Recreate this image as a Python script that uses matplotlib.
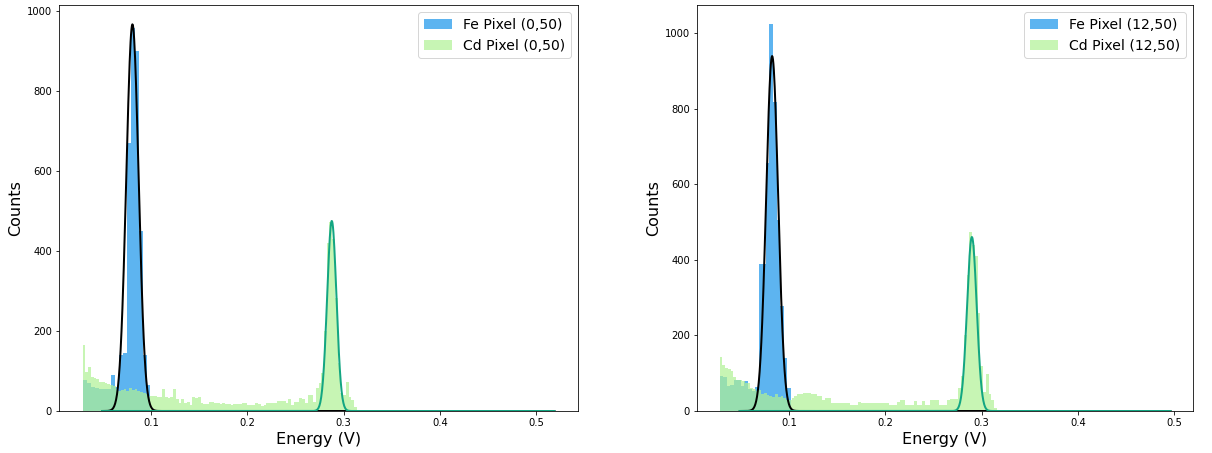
import numpy as np
import matplotlib.pyplot as plt

# Histogram data (bin start, bin width, counts per bin)
fe_left_start, fe_left_width = 0.0288, 0.00415
fe_left_counts = [77, 69, 61, 58, 55, 55, 54, 90, 61, 140, 145, 670, 957, 900, 450, 140, 65]

cd_left_start, cd_left_width = 0.0288, 0.00285
cd_left_counts = [165, 98, 109, 86, 82, 79, 73, 72, 70, 68,
                  66, 62, 55, 50, 52, 55, 50, 58, 52, 56,
                  50, 48, 46, 42, 38, 38, 37, 36, 34, 54,
                  34, 33, 35, 54, 29, 21, 29, 21, 22, 15,
                  34, 33, 34, 21, 17, 18, 23, 22, 19, 20,
                  18, 19, 17, 18, 16, 17, 18, 17, 21, 20,
                  15, 16, 15, 19, 18, 13, 14, 19, 20, 21,
                  19, 26, 25, 26, 21, 29, 15, 23, 22, 32,
                  31, 19, 40, 39, 23, 57, 69, 94, 200, 420,
                  472, 430, 282, 120, 45, 40, 73, 36, 28, 11]

fe_right_start, fe_right_width = 0.0280, 0.0037
fe_right_counts = [92, 90, 66, 70, 83, 83, 66, 79, 57, 53,
                   63, 388, 390, 657, 1024, 817, 507, 279, 141, 60]

cd_right_start, cd_right_width = 0.0280, 0.00288
cd_right_counts = [143, 123, 114, 110, 105, 90, 83, 83, 80, 75,
                   75, 60, 57, 53, 55, 45, 48, 42, 40, 38,
                   45, 36, 40, 35, 30, 30, 35, 39, 44, 44,
                   48, 48, 48, 44, 44, 39, 39, 29, 35, 35,
                   22, 22, 21, 22, 21, 21, 22, 17, 17, 17,
                   25, 21, 21, 22, 21, 21, 22, 22, 22, 22,
                   22, 16, 16, 16, 25, 30, 30, 15, 15, 15,
                   26, 15, 15, 26, 15, 15, 29, 29, 29, 15,
                   15, 15, 30, 33, 33, 33, 61, 92, 200, 360,
                   474, 440, 410, 260, 120, 50, 99, 45, 30, 8]

# Gaussian fit parameters (amplitude, centre, sigma) and fit range
fe_left_fit = (966, 0.0806, 0.0064)
cd_left_fit = (475, 0.2877, 0.0048)
fe_right_fit = (940, 0.0826, 0.0062)
cd_right_fit = (461, 0.2899, 0.0050)
left_fit_range = (0.049, 0.519)
right_fit_range = (0.049, 0.496)

labels_left = ['Fe Pixel (0,50)', 'Cd Pixel (0,50)']
labels_right = ['Fe Pixel (12,50)', 'Cd Pixel (12,50)']

fe_color = '#1994ea'
cd_color = '#b0f194'
fe_line = 'black'
cd_line = '#13a682'


def gauss(x, a, mu, s):
    return a * np.exp(-(x - mu) ** 2 / (2 * s ** 2))


def draw(ax, fe, cd, fe_fit, cd_fit, fit_range, labels):
    for (start, width, counts), color, label in zip([fe, cd], [fe_color, cd_color], labels):
        counts = np.array(counts)
        edges = start + width * np.arange(len(counts) + 1)
        ax.hist(edges[:-1], bins=edges, weights=counts, color=color, alpha=0.7, label=label)
    x = np.linspace(fit_range[0], fit_range[1], 1000)
    ax.plot(x, gauss(x, *fe_fit), color=fe_line, lw=2)
    ax.plot(x, gauss(x, *cd_fit), color=cd_line, lw=2)
    ax.set_xlabel('Energy (V)', fontsize=16)
    ax.set_ylabel('Counts', fontsize=16)
    ax.legend(loc='upper right', fontsize=14)


fig = plt.figure(figsize=(1212 / 72, 453 / 72), dpi=72)
ax1 = fig.add_axes([59 / 1212, 42 / 453, 519 / 1212, 406 / 453])
ax2 = fig.add_axes([697 / 1212, 42 / 453, 496 / 1212, 406 / 453])

draw(ax1, (fe_left_start, fe_left_width, fe_left_counts),
     (cd_left_start, cd_left_width, cd_left_counts),
     fe_left_fit, cd_left_fit, left_fit_range, labels_left)
draw(ax2, (fe_right_start, fe_right_width, fe_right_counts),
     (cd_right_start, cd_right_width, cd_right_counts),
     fe_right_fit, cd_right_fit, right_fit_range, labels_right)

fig.savefig('out.png', dpi=72)
